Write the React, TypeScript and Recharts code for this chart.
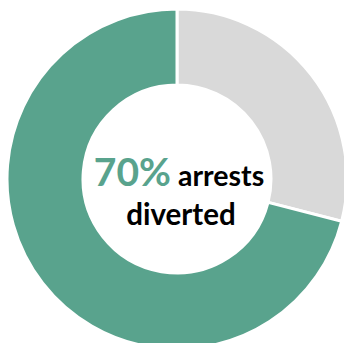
import React from "react";
import { PieChart, Pie, Cell } from "recharts";

const categories = ["Not diverted", "Diverted"];
const shares = [29, 71];
const sliceColors = ["#D9D9D9", "#59A38D"];
const headline = "70%";
const captionTop = "arrests";
const captionBottom = "diverted";

const data = categories.map((name, i) => ({ name, value: shares[i] }));

const CX = 177;
const CY = 179;

export default function App() {
  return (
    <div style={{ position: "absolute", left: 0, top: 0, width: 344, height: 343, background: "#fff" }}>
      <PieChart width={344} height={343} margin={{ top: 0, right: 0, bottom: 0, left: 0 }}>
        <Pie
          data={data}
          dataKey="value"
          nameKey="name"
          cx={CX}
          cy={CY}
          innerRadius={94}
          outerRadius={170}
          startAngle={90}
          endAngle={-270}
          stroke="#fff"
          strokeWidth={3}
          isAnimationActive={false}
        >
          {data.map((d, i) => (
            <Cell key={d.name} fill={sliceColors[i]} />
          ))}
        </Pie>
        <g style={{ fontFamily: "Lato, 'Open Sans', sans-serif", fontWeight: 700 }}>
          <text x={CX + 2} y={CY + 7} textAnchor="middle">
            <tspan fill="#59A38D" fontSize={39}>{headline}</tspan>
            <tspan fill="#000" fontSize={28.5}> {captionTop}</tspan>
          </text>
          <text x={CX + 4} y={CY + 46} textAnchor="middle" fill="#000" fontSize={29.5}>
            {captionBottom}
          </text>
        </g>
      </PieChart>
    </div>
  );
}
